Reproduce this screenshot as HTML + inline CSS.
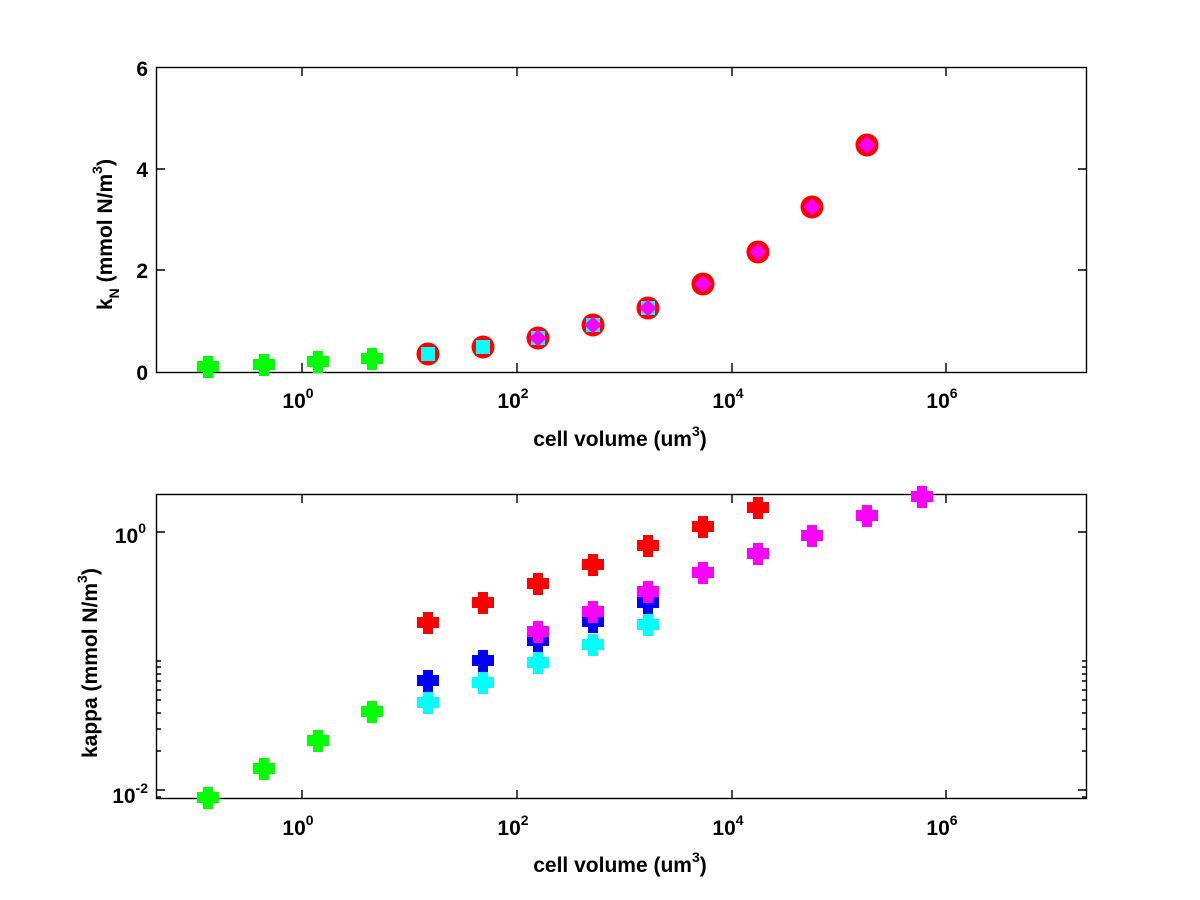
<!DOCTYPE html>
<html><head><meta charset="utf-8"><style>html,body{margin:0;padding:0;background:#fff}svg{display:block}text{font-family:"Liberation Sans",Arial,sans-serif;fill:#000;font-weight:bold}</style></head><body>
<svg width="1200" height="900" viewBox="0 0 1200 900" xmlns="http://www.w3.org/2000/svg">
<defs>
<path id="p" d="M-5,-11H5V-6H11V5H5V11H-5V5H-11V-6H-5Z"/>
<g id="rc"><circle r="11.5" fill="#f00"/></g>
<rect id="sq" x="-7" y="-7" width="14" height="14" fill="#0ff"/>
<path id="dm" d="M0,-8.5L8.5,0L0,8.5L-8.5,0Z" fill="#f0f"/>
</defs>
<rect width="1200" height="900" fill="#fff"/>
<g stroke="#000" stroke-width="1.4" fill="none">
<rect x="156.5" y="67.5" width="930" height="305"/>
<path d="M302,372v-9M517,372v-9M732,372v-9M946,372v-9M302,67v9M517,67v9M732,67v9M946,67v9"/>
<path d="M156,270h9M156,169h9M1087,270h-9M1087,169h-9"/>
</g>
<g font-size="21" text-anchor="end">
<text x="148" y="380">0</text><text x="148" y="278">2</text><text x="148" y="177">4</text><text x="148" y="76">6</text>
</g>
<g font-size="21" text-anchor="middle">
<text x="298" y="408">10<tspan font-size="14" dy="-10">0</tspan></text>
<text x="513" y="408">10<tspan font-size="14" dy="-10">2</tspan></text>
<text x="728" y="408">10<tspan font-size="14" dy="-10">4</tspan></text>
<text x="942" y="408">10<tspan font-size="14" dy="-10">6</tspan></text>
<text x="620" y="446">cell volume (um<tspan font-size="14" dy="-10">3</tspan><tspan dy="10">)</tspan></text>
</g>
<text font-size="21" transform="translate(112,310) rotate(-90)">k<tspan font-size="14" dy="7">N</tspan><tspan dy="-7"> (mmol N/m</tspan><tspan font-size="14" dy="-10">3</tspan><tspan dy="10">)</tspan></text>
<g fill="#0f0">
<use href="#p" x="208" y="367"/><use href="#p" x="264" y="365"/><use href="#p" x="318" y="362"/><use href="#p" x="372" y="359"/>
</g>
<g>
<use href="#rc" x="428" y="354"/><use href="#rc" x="483" y="347"/><use href="#rc" x="538" y="338"/><use href="#rc" x="593" y="325"/><use href="#rc" x="648" y="308"/><use href="#rc" x="703" y="284"/><use href="#rc" x="758" y="252"/><use href="#rc" x="812" y="207"/><use href="#rc" x="867" y="145"/>
<use href="#sq" x="428" y="354"/><use href="#sq" x="483" y="347"/><use href="#sq" x="538" y="338"/><use href="#sq" x="593" y="325"/><use href="#sq" x="648" y="308"/>
<use href="#dm" x="538" y="338"/><use href="#dm" x="593" y="325"/><use href="#dm" x="648" y="308"/><use href="#dm" x="703" y="284"/><use href="#dm" x="758" y="252"/><use href="#dm" x="812" y="207"/><use href="#dm" x="867" y="145"/>
</g>
<g stroke="#000" stroke-width="1.4" fill="none">
<rect x="156.5" y="494.5" width="930" height="304"/>
<path d="M302,799v-9M517,799v-9M732,799v-9M946,799v-9M302,494v9M517,494v9M732,494v9M946,494v9"/>
<path d="M156,532h9M1087,532h-9M156,790h9M1087,790h-9"/>
<path d="M156,661h5M156,667h5M156,674h5M156,681h5M156,690h5M156,700h5M156,713h5M156,729h5M156,751h5M156,797h5"/>
<path d="M1087,661h-5M1087,667h-5M1087,674h-5M1087,681h-5M1087,690h-5M1087,700h-5M1087,713h-5M1087,729h-5M1087,751h-5M1087,797h-5"/>
</g>
<g font-size="21" text-anchor="end">
<text x="146" y="543">10<tspan font-size="14" dy="-10">0</tspan></text>
<text x="148" y="803">10<tspan font-size="14" dy="-10">-2</tspan></text>
</g>
<g font-size="21" text-anchor="middle">
<text x="298" y="835">10<tspan font-size="14" dy="-10">0</tspan></text>
<text x="513" y="835">10<tspan font-size="14" dy="-10">2</tspan></text>
<text x="728" y="835">10<tspan font-size="14" dy="-10">4</tspan></text>
<text x="942" y="835">10<tspan font-size="14" dy="-10">6</tspan></text>
<text x="620" y="872">cell volume (um<tspan font-size="14" dy="-10">3</tspan><tspan dy="10">)</tspan></text>
</g>
<text font-size="21" transform="translate(97,758) rotate(-90)">kappa (mmol N/m<tspan font-size="14" dy="-10">3</tspan><tspan dy="10">)</tspan></text>
<g fill="#0f0">
<use href="#p" x="208" y="798"/><use href="#p" x="264" y="769"/><use href="#p" x="318" y="741"/><use href="#p" x="372" y="712"/>
</g>
<g fill="#00f">
<use href="#p" x="428" y="681"/><use href="#p" x="483" y="661"/><use href="#p" x="538" y="641"/><use href="#p" x="593" y="622"/><use href="#p" x="648" y="603"/>
</g>
<g fill="#0ff">
<use href="#p" x="428" y="703"/><use href="#p" x="483" y="683"/><use href="#p" x="538" y="663"/><use href="#p" x="593" y="645"/><use href="#p" x="648" y="625"/>
</g>
<g fill="#f00">
<use href="#p" x="428" y="623"/><use href="#p" x="483" y="603"/><use href="#p" x="538" y="584"/><use href="#p" x="593" y="565"/><use href="#p" x="648" y="546"/><use href="#p" x="703" y="527"/><use href="#p" x="758" y="508"/>
</g>
<g fill="#f0f">
<use href="#p" x="538" y="632"/><use href="#p" x="593" y="612"/><use href="#p" x="648" y="592"/><use href="#p" x="703" y="573"/><use href="#p" x="758" y="554"/><use href="#p" x="812" y="536"/><use href="#p" x="867" y="516"/><use href="#p" x="922" y="497"/>
</g>
</svg>
</body></html>
